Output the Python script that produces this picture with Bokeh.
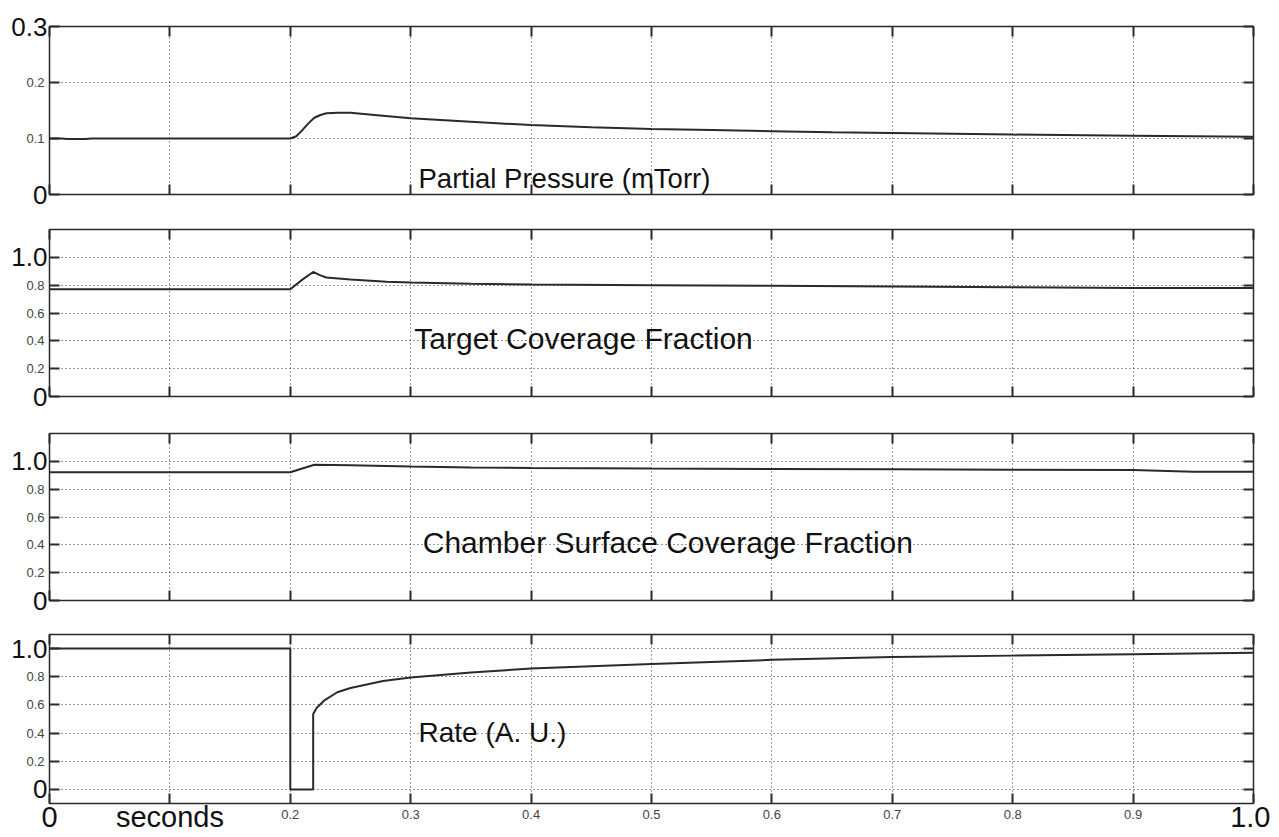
from bokeh.plotting import figure
from bokeh.models import LinearAxis, FixedTicker, Label, Range1d, Grid
from bokeh.layouts import column
from bokeh.embed import file_html
from bokeh.resources import INLINE

# ---------------- data ----------------
x_ticks = [0.0, 0.1, 0.2, 0.3, 0.4, 0.5, 0.6, 0.7, 0.8, 0.9, 1.0]
x_small_labels = {0.2: "0.2", 0.3: "0.3", 0.4: "0.4", 0.5: "0.5", 0.6: "0.6",
                  0.7: "0.7", 0.8: "0.8", 0.9: "0.9"}
x_big_labels = {0.0: "0", 0.1: "seconds", 1.0: "1.0"}

t_pressure = [0, 0.01, 0.015, 0.03, 0.035, 0.2, 0.205, 0.21, 0.215, 0.22, 0.225, 0.23,
              0.24, 0.25, 0.27, 0.3, 0.35, 0.4, 0.45, 0.5, 0.55, 0.6, 0.65, 0.7, 0.8, 0.9, 1.0]
pressure = [0.1, 0.1, 0.099, 0.099, 0.1, 0.1, 0.104, 0.115, 0.127, 0.137, 0.142, 0.145,
            0.146, 0.146, 0.142, 0.136, 0.130, 0.124, 0.120, 0.117, 0.115, 0.113, 0.111,
            0.110, 0.107, 0.105, 0.103]

t_target = [0, 0.2, 0.21, 0.219, 0.225, 0.23, 0.25, 0.28, 0.3, 0.35, 0.4, 0.5, 0.6,
            0.7, 0.8, 0.9, 1.0]
target = [0.77, 0.77, 0.84, 0.895, 0.87, 0.855, 0.84, 0.825, 0.82, 0.81, 0.805, 0.80,
          0.795, 0.79, 0.785, 0.78, 0.78]

t_chamber = [0, 0.2, 0.22, 0.25, 0.3, 0.35, 0.4, 0.5, 0.6, 0.7, 0.8, 0.9, 0.95, 1.0]
chamber = [0.922, 0.922, 0.975, 0.972, 0.962, 0.955, 0.952, 0.948, 0.945, 0.943, 0.940,
           0.937, 0.926, 0.925]

t_rate = [0, 0.2, 0.2, 0.2, 0.219, 0.219, 0.222, 0.228, 0.239, 0.25, 0.277, 0.3, 0.35,
          0.4, 0.5, 0.6, 0.7, 0.8, 0.9, 1.0]
rate = [1.0, 1.0, 0.5, 0.0, 0.0, 0.536, 0.58, 0.63, 0.69, 0.72, 0.77, 0.795, 0.83,
        0.858, 0.89, 0.92, 0.94, 0.95, 0.96, 0.97]

texts = ["Partial Pressure (mTorr)", "Target Coverage Fraction",
         "Chamber Surface Coverage Fraction", "Rate (A. U.)"]

y_ticks_p1 = [0.0, 0.1, 0.2, 0.3]
y_small_p1 = {0.1: "0.1", 0.2: "0.2"}
y_big_p1 = {0.0: "0", 0.3: "0.3"}
y_ticks_cov = [0.0, 0.2, 0.4, 0.6, 0.8, 1.0]
y_small_cov = {0.2: "0.2", 0.4: "0.4", 0.6: "0.6", 0.8: "0.8"}
y_big_cov = {0.0: "0", 1.0: "1.0"}

FONT = "Liberation Sans"
DARK = "#2a2a2a"


def style_axis(ax, ticks, labels, size, color, standoff, draw_ticks):
    ax.ticker = FixedTicker(ticks=ticks)
    ax.major_tick_in = 10
    ax.major_tick_out = 0
    ax.minor_tick_line_color = None
    ax.major_tick_line_color = DARK if draw_ticks else None
    ax.major_tick_line_width = 2
    ax.axis_line_color = None
    ax.major_label_text_font = FONT
    ax.major_label_text_font_size = size
    ax.major_label_text_color = color
    ax.major_label_standoff = standoff
    ax.major_label_overrides = {t: labels.get(t, "") for t in ticks}


def make_panel(height, top, bottom, y_range, y_ticks, small_y, big_y):
    p = figure(width=1270, height=height, x_range=Range1d(0, 1), y_range=Range1d(*y_range),
               output_backend="svg", toolbar_location=None,
               x_axis_location=None, y_axis_location=None,
               min_border_left=49, min_border_right=17,
               min_border_top=top, min_border_bottom=bottom)
    p.center = []
    p.outline_line_color = DARK
    p.outline_line_width = 1.5
    p.background_fill_color = "white"
    p.border_fill_color = "white"
    # left: inner axis with small labels, outer axis with the large labels pulled inward
    left_small = LinearAxis()
    style_axis(left_small, y_ticks, small_y, "13px", "#444444", 5, True)
    p.add_layout(left_small, "left")
    left_big = LinearAxis()
    style_axis(left_big, y_ticks, big_y, "26px", "#111111", -24, False)
    p.add_layout(left_big, "left")
    right = LinearAxis()
    style_axis(right, y_ticks, {}, "13px", "#444444", 2, True)
    p.add_layout(right, "right")
    above = LinearAxis()
    style_axis(above, x_ticks, {}, "13px", "#444444", 2, True)
    p.add_layout(above, "above")
    below = LinearAxis()
    style_axis(below, x_ticks, {}, "13px", "#444444", 2, True)
    p.add_layout(below, "below")
    gx = Grid(dimension=0, ticker=FixedTicker(ticks=x_ticks))
    gy = Grid(dimension=1, ticker=FixedTicker(ticks=y_ticks))
    for g in (gx, gy):
        g.grid_line_color = "#333333"
        g.grid_line_dash = "1 3"
        g.grid_line_width = 1
        p.add_layout(g, "center")
    return p, below


def series_label(p, x, y, text, size="28px"):
    p.add_layout(Label(x=x, y=y, text=text, text_align="left", text_baseline="alphabetic",
                       text_font=FONT, text_font_size=size, text_color="#111111"))


# Panel 1
p1, _ = make_panel(213, 26, 19, (0, 0.3), y_ticks_p1, y_small_p1, y_big_p1)
p1.line(t_pressure, pressure, line_color=DARK, line_width=2)
series_label(p1, 0.3065, 0.029, texts[0], "27.5px")

# Panel 2
p2, _ = make_panel(201, 16, 18, (0, 1.2), y_ticks_cov, y_small_cov, y_big_cov)
p2.line(t_target, target, line_color=DARK, line_width=2)
series_label(p2, 0.303, 0.417, texts[1], "30px")

# Panel 3
p3, _ = make_panel(206, 19, 20, (0, 1.2), y_ticks_cov, y_small_cov, y_big_cov)
p3.line(t_chamber, chamber, line_color=DARK, line_width=2)
series_label(p3, 0.31, 0.419, texts[2], "30px")

# Panel 4
p4, below4 = make_panel(215, 14, 32, (-0.1, 1.1), y_ticks_cov, y_small_cov, y_big_cov)
style_axis(below4, x_ticks, x_small_labels, "13px", "#444444", 6, True)
below_big = LinearAxis()
style_axis(below_big, x_ticks, x_big_labels, "29px", "#111111", -21, False)
p4.add_layout(below_big, "below")
p4.line(t_rate, rate, line_color=DARK, line_width=2)
series_label(p4, 0.3065, 0.402, texts[3], "28px")

layout = column(p1, p2, p3, p4, spacing=0)
open("out.html", "w").write(file_html(layout, INLINE))
